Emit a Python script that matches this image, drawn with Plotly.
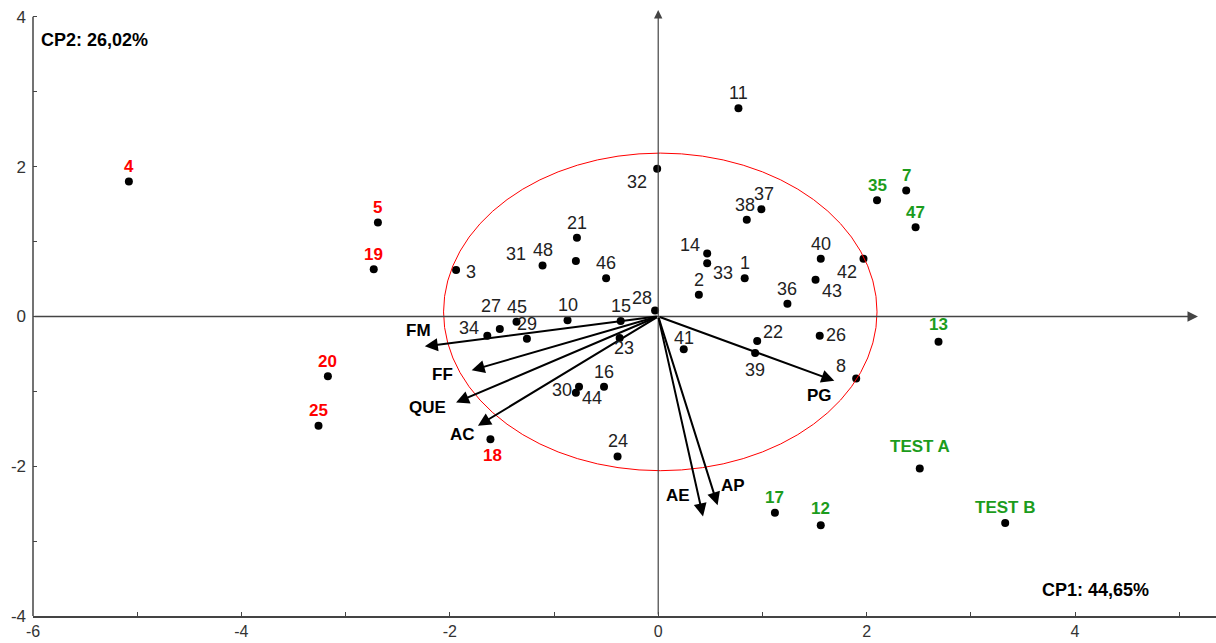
import plotly.graph_objects as go

# Scores of the individuals on the first two principal components
labels = ["1", "2", "3", "4", "5", "7", "8", "10", "11", "12", "13", "14", "15", "16",
          "17", "18", "19", "20", "21", "22", "23", "24", "25", "26", "27", "28", "29",
          "30", "31", "32", "33", "34", "35", "36", "37", "38", "39", "40", "41", "42",
          "43", "44", "45", "46", "47", "48", "TEST A", "TEST B"]
pc1 = [0.83, 0.39, -1.94, -5.08, -2.69, 2.38, 1.90, -0.87, 0.77, 1.56, 2.69, 0.47, -0.36, -0.52,
       1.12, -1.61, -2.73, -3.17, -0.78, 0.95, -0.37, -0.39, -3.26, 1.55, -1.52, -0.03, -1.26,
       -0.76, -0.79, -0.01, 0.47, -1.64, 2.10, 1.24, 0.99, 0.85, 0.93, 1.56, 0.245, 1.97,
       1.51, -0.79, -1.36, -0.50, 2.47, -1.11, 2.51, 3.33]
pc2 = [0.51, 0.29, 0.62, 1.80, 1.255, 1.68, -0.83, -0.05, 2.78, -2.79, -0.34, 0.84, -0.06, -0.94,
       -2.62, -1.64, 0.63, -0.80, 1.05, -0.33, -0.29, -1.87, -1.46, -0.26, -0.17, 0.08, -0.30,
       -0.94, 0.74, 1.97, 0.71, -0.26, 1.55, 0.17, 1.43, 1.29, -0.49, 0.77, -0.44, 0.77,
       0.49, -1.02, -0.07, 0.51, 1.19, 0.68, -2.03, -2.76]

red_group = ["4", "5", "18", "19", "20", "25"]
green_group = ["7", "12", "13", "17", "35", "47", "TEST A", "TEST B"]

# Variable loadings (arrows)
var_names = ["FM", "FF", "QUE", "AC", "PG", "AE", "AP"]
var_pc1 = [-2.24, -1.79, -1.94, -1.73, 1.69, 0.43, 0.57]
var_pc2 = [-0.40, -0.72, -1.15, -1.46, -0.86, -2.67, -2.52]

# Reference ellipse
ellipse_center = (0.02, 0.06)
ellipse_radii = (2.08, 2.12)

axis_titles = ["CP1: 44,65%", "CP2: 26,02%"]

x_ticks = list(range(-6, 6))
y_ticks = list(range(-4, 5))

# ---- label placement (pixel shifts from the marker) ----
default_shift = (0, 15)
label_shift = {
    "3": (15, -2), "14": (-17, 8), "33": (16, -10), "32": (-20, -13),
    "28": (-13, 12), "27": (-9, 23), "34": (-18, 8), "23": (4, -10),
    "30": (-17, -3), "44": (16, -5), "18": (2, -16), "22": (16, 9),
    "39": (0, -17), "26": (16, 1), "8": (-15, 13), "42": (-16, -13),
    "43": (16, -11), "41": (0, 11), "TEST A": (0, 22), "TEST B": (0, 16),
    "13": (0, 17), "12": (0, 17), "31": (-60, 7), "38": (-2, 15), "37": (3, 15),
}
var_shift = {
    "FM": (-6, 16), "FF": (-29, -4), "QUE": (-29, -5), "AC": (-15, -9),
    "PG": (-15, -15), "AE": (-25, 21), "AP": (15, 20),
}

FONT = "Liberation Sans, Arial, sans-serif"
AXIS_COL = "#444444"
RED = "#ff0000"
GREEN = "#1c9c1c"

fig = go.Figure()

fig.add_trace(go.Scatter(
    x=pc1, y=pc2, mode="markers",
    marker=dict(color="black", size=8),
    hoverinfo="text", text=labels, showlegend=False,
))

annotations = []

# central axes with arrowheads
annotations.append(dict(x=5.18, y=0, ax=-6, ay=0, xref="x", yref="y", axref="x", ayref="y",
                        showarrow=True, arrowhead=2, arrowsize=1.4, arrowwidth=1.5,
                        arrowcolor=AXIS_COL, text=""))
annotations.append(dict(x=0, y=4.09, ax=0, ay=-4, xref="x", yref="y", axref="x", ayref="y",
                        showarrow=True, arrowhead=2, arrowsize=1.4, arrowwidth=1.2,
                        arrowcolor=AXIS_COL, text=""))

# loading vectors
for name, vx, vy in zip(var_names, var_pc1, var_pc2):
    annotations.append(dict(x=vx, y=vy, ax=0, ay=0, xref="x", yref="y", axref="x", ayref="y",
                            showarrow=True, arrowhead=2, arrowsize=1.3, arrowwidth=2,
                            arrowcolor="black", text=""))
    dx, dy = var_shift[name]
    annotations.append(dict(x=vx, y=vy, xref="x", yref="y", text=name, showarrow=False,
                            xshift=dx, yshift=dy,
                            font=dict(family=FONT, size=17, color="black", weight="bold")))

# point labels
for lab, px, py in zip(labels, pc1, pc2):
    dx, dy = label_shift.get(lab, default_shift)
    if lab in red_group:
        font = dict(family=FONT, size=17, color=RED, weight="bold")
    elif lab in green_group:
        font = dict(family=FONT, size=17, color=GREEN, weight="bold")
    else:
        font = dict(family=FONT, size=18, color="#222222")
    annotations.append(dict(x=px, y=py, xref="x", yref="y", text=lab, showarrow=False,
                            xshift=dx, yshift=dy, font=font))

# component titles
annotations.append(dict(x=4.2, y=-4, xref="x", yref="y", text=axis_titles[0], showarrow=False,
                        xanchor="center", yanchor="bottom", yshift=14,
                        font=dict(family=FONT, size=18, color="black", weight="bold")))
annotations.append(dict(x=-6, y=4, xref="x", yref="y", text=axis_titles[1], showarrow=False,
                        xanchor="left", yanchor="top", xshift=6, yshift=-11,
                        font=dict(family=FONT, size=18, color="black", weight="bold")))

cx, cy = ellipse_center
rx, ry = ellipse_radii
shapes = [
    dict(type="circle", xref="x", yref="y", x0=cx - rx, x1=cx + rx, y0=cy - ry, y1=cy + ry,
         line=dict(color=RED, width=1)),
    # left axis line spanning the labelled range
    dict(type="line", xref="paper", yref="y", x0=0, x1=0, y0=-4, y1=4,
         line=dict(color=AXIS_COL, width=1.5)),
]

fig.update_layout(
    width=1216, height=643,
    margin=dict(l=33, r=0, t=0, b=27, autoexpand=False),
    paper_bgcolor="white", plot_bgcolor="white",
    annotations=annotations, shapes=shapes,
    xaxis=dict(range=[-6, 5.353], tickvals=x_ticks,
               ticktext=[str(v) if v % 2 == 0 else "" for v in x_ticks],
               ticks="inside", ticklen=4, tickcolor=AXIS_COL, tickwidth=1,
               showline=True, linecolor=AXIS_COL, linewidth=1.5, automargin=False,
               showgrid=False, zeroline=False, ticklabelstandoff=0,
               tickfont=dict(family=FONT, size=16, color="#333333")),
    yaxis=dict(range=[-4, 4.224], tickvals=y_ticks,
               ticktext=[str(v) if v % 2 == 0 else "" for v in y_ticks],
               ticks="inside", ticklen=4, tickcolor=AXIS_COL, tickwidth=1, automargin=False,
               showline=False, showgrid=False, zeroline=False, ticklabelstandoff=6,
               tickfont=dict(family=FONT, size=17, color="#333333")),
)

fig.write_html("out.html")
